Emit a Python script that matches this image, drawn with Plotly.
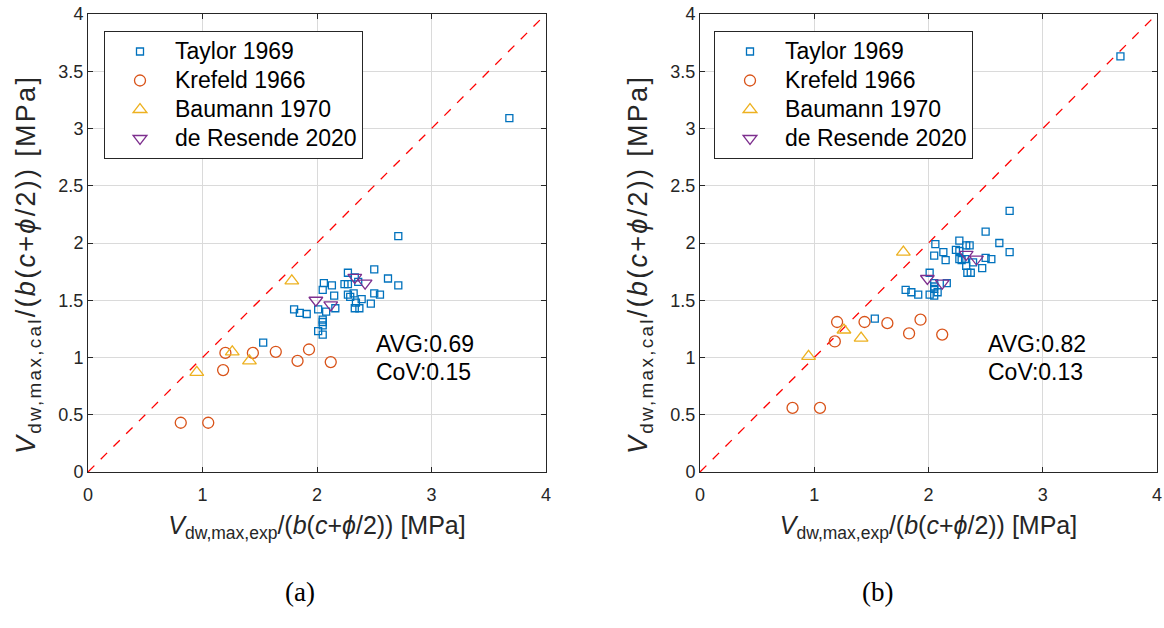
import plotly.graph_objects as go

# ---------------- data ----------------
taylor_x = [1.53, 1.80, 1.85, 1.91, 2.01, 2.01, 2.05, 2.05, 2.05, 2.05, 2.05, 2.06,
            2.08, 2.13, 2.15, 2.16, 2.24, 2.27, 2.27, 2.27, 2.29, 2.32, 2.33, 2.34,
            2.33, 2.36, 2.37, 2.39, 2.47, 2.50, 2.50, 2.55, 2.62, 2.71, 2.71, 3.68]
taylor_ya = [1.13, 1.42, 1.39, 1.38, 1.42, 1.23, 1.33, 1.31, 1.28, 1.20, 1.59, 1.65,
             1.40, 1.63, 1.54, 1.43, 1.64, 1.64, 1.74, 1.55, 1.53, 1.56, 1.70, 1.48,
             1.43, 1.66, 1.43, 1.51, 1.47, 1.77, 1.56, 1.55, 1.69, 2.06, 1.63, 3.09]
taylor_yb = [1.34, 1.59, 1.57, 1.55, 1.55, 1.74, 1.65, 1.62, 1.60, 1.54, 1.89, 1.99,
             1.57, 1.92, 1.85, 1.65, 1.94, 1.93, 2.02, 1.86, 1.85, 1.86, 1.98, 1.74,
             1.80, 1.98, 1.74, 1.83, 1.78, 2.10, 1.87, 1.86, 2.00, 2.28, 1.92, 3.63]

krefeld_x = [0.81, 1.05, 1.18, 1.20, 1.44, 1.64, 1.83, 1.93, 2.12]
krefeld_ya = [0.43, 0.43, 0.89, 1.04, 1.04, 1.05, 0.97, 1.07, 0.96]
krefeld_yb = [0.56, 0.56, 1.14, 1.31, 1.31, 1.30, 1.21, 1.33, 1.20]

baumann_x = [0.95, 1.26, 1.41, 1.78]
baumann_ya = [0.87, 1.05, 0.97, 1.67]
baumann_yb = [1.01, 1.24, 1.17, 1.92]

resende_x = [1.99, 2.12, 2.33, 2.42]
resende_ya = [1.50, 1.46, 1.70, 1.65]
resende_yb = [1.69, 1.65, 1.90, 1.86]

series_names = ["Taylor 1969", "Krefeld 1966", "Baumann 1970", "de Resende 2020"]
stats_a = ["AVG:0.69", "CoV:0.15"]
stats_b = ["AVG:0.82", "CoV:0.13"]
panel_labels = ["(a)", "(b)"]
x_ticks = [0, 1, 2, 3, 4]
y_ticks = [0, 0.5, 1, 1.5, 2, 2.5, 3, 3.5, 4]
y_ticklabels = ["0", "0.5", "1", "1.5", "2", "2.5", "3", "3.5", "4"]
diag = [0, 4]

# ---------------- styles ----------------
colors = ["#0072BD", "#D95319", "#EDB120", "#7E2F8E"]
symbols = ["square-open", "circle-open", "triangle-up-open", "triangle-down-open"]
sizes = [7, 11, 12, 12]
FONT = "Liberation Sans, Arial, sans-serif"
AX = "#262626"

W, H = 1164, 628


def fx(p):
    return p / W


def fy(p):
    return 1 - p / H


fig = go.Figure()

panels = [
    ("x", "y", "legend", [taylor_ya, krefeld_ya, baumann_ya, resende_ya]),
    ("x2", "y2", "legend2", [taylor_yb, krefeld_yb, baumann_yb, resende_yb]),
]
xs = [taylor_x, krefeld_x, baumann_x, resende_x]

for xa, ya, leg, ys in panels:
    fig.add_trace(go.Scatter(x=diag, y=diag, mode="lines", xaxis=xa, yaxis=ya,
                             line=dict(color="#FF0000", width=1.3, dash="dash"),
                             showlegend=False, hoverinfo="skip"))
    for i in range(4):
        fig.add_trace(go.Scatter(
            x=xs[i], y=ys[i], mode="markers",
            name='<span style="font-size:23px">' + series_names[i] + '</span>',
            xaxis=xa, yaxis=ya, legend=leg,
            marker=dict(symbol=symbols[i], size=sizes[i], color=colors[i],
                        line=dict(width=1.3, color=colors[i]))))

xlab = "<i>V</i><sub>dw,max,exp</sub>/(<i>b</i>(<i>c</i>+<i>ϕ</i>/2)) [MPa]"
ylab = ('<span style="letter-spacing:2.3px"><i>V</i><sub>dw,max,cal</sub>'
        '/(<i>b</i>(<i>c</i>+<i>ϕ</i>/2)) [MPa]</span>')

y_dom = [fy(472), fy(14)]
x_doms = [[fx(88), fx(546)], [fx(700), fx(1157)]]

axis_common = dict(range=[0, 4], showgrid=True, gridcolor="#DADADA", gridwidth=1,
                   showline=True, linecolor=AX, linewidth=1, mirror="ticks",
                   ticks="inside", ticklen=5, tickcolor=AX, zeroline=False,
                   automargin=False, ticklabeloverflow="allow",
                   tickfont=dict(family=FONT, size=18, color=AX))

layout = dict(width=W, height=H, margin=dict(l=0, r=0, t=0, b=0, autoexpand=False),
              paper_bgcolor="white", plot_bgcolor="white",
              font=dict(family=FONT, color=AX))

for k, (xn, yn) in enumerate([("xaxis", "yaxis"), ("xaxis2", "yaxis2")]):
    xaxis = dict(axis_common, domain=x_doms[k], tickvals=x_ticks,
                 anchor="y" if k == 0 else "y2", ticklabelstandoff=6,
                 title=dict(text=xlab, font=dict(family=FONT, size=25, color=AX), standoff=12))
    yaxis = dict(axis_common, domain=y_dom, tickvals=y_ticks, ticktext=y_ticklabels,
                 anchor="x" if k == 0 else "x2")
    layout[xn] = xaxis
    layout[yn] = yaxis

legend_common = dict(xanchor="left", yanchor="top", bgcolor="white",
                     bordercolor=AX, borderwidth=1, itemwidth=60,
                     font=dict(family=FONT, size=20, color="black"),
                     tracegroupgap=0, entrywidth=214)
layout["legend"] = dict(legend_common, x=fx(104), y=fy(31))
layout["legend2"] = dict(legend_common, x=fx(714), y=fy(31))

fig.update_layout(**layout)

# y-axis titles (rotated text placed like the reference)
for cx in [28, 640]:
    fig.add_annotation(x=fx(cx), y=fy(265), xref="paper", yref="paper",
                       text=ylab, textangle=-90, showarrow=False,
                       xanchor="center", yanchor="middle",
                       font=dict(family=FONT, size=27, color=AX))

# statistics text
for k, (xr, yr, st) in enumerate([("x", "y", stats_a), ("x2", "y2", stats_b)]):
    fig.add_annotation(x=2.5, y=1.115, xref=xr, yref=yr, text=st[0], showarrow=False,
                       xanchor="left", yanchor="middle",
                       font=dict(family=FONT, size=23, color="black"))
    fig.add_annotation(x=2.5, y=0.87, xref=xr, yref=yr, text=st[1], showarrow=False,
                       xanchor="left", yanchor="middle",
                       font=dict(family=FONT, size=23, color="black"))

# panel labels
for k, cx in enumerate([283, 895]):
    fig.add_annotation(x=fx(cx), y=fy(609), xref="paper", yref="paper",
                       text=panel_labels[k], showarrow=False,
                       font=dict(family="Liberation Serif, Times New Roman, serif",
                                 size=27, color="black"))

# remove the default page margin so the figure fills the 1164x628 window
fig.write_html("out.html", config={"displayModeBar": False},
               post_script="document.body.style.margin='0';")
